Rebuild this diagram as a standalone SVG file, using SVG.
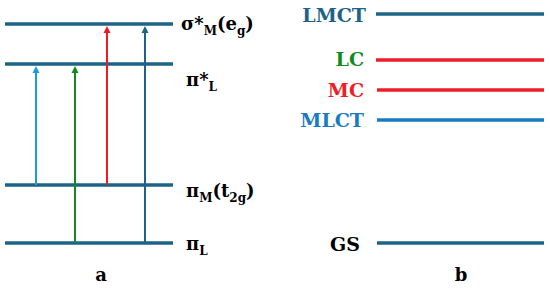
<svg xmlns="http://www.w3.org/2000/svg" width="550" height="290" viewBox="0 0 550 290">
<style>
.lvl{stroke:#1b6387;stroke-width:3.5;fill:none}
text{font-family:'DejaVu Serif','Liberation Serif',serif;font-weight:bold}
.t{font-size:18px;fill:#000}
.s{font-size:12px}
.lab{font-size:19px;text-anchor:end}
.ax{font-size:18px;text-anchor:middle}
</style>
<rect width="550" height="290" fill="#fff"/>
<g id="panel-a">
<g id="lvl-sigma"><line class="lvl" x1="5" y1="24" x2="173" y2="24"/><text class="t" x="181" y="30">σ*<tspan class="s" dy="5">M</tspan><tspan dy="-5">(e</tspan><tspan class="s" dy="5">g</tspan><tspan dy="-5">)</tspan></text></g>
<g id="lvl-piL-star"><line class="lvl" x1="5" y1="64" x2="173" y2="64"/><text class="t" x="186" y="86">π*<tspan class="s" dy="5">L</tspan></text></g>
<g id="lvl-piM"><line class="lvl" x1="5" y1="185" x2="173" y2="185"/><text class="t" x="186" y="197">π<tspan class="s" dy="5">M</tspan><tspan dy="-5">(t</tspan><tspan class="s" dy="5">2g</tspan><tspan dy="-5">)</tspan></text></g>
<g id="lvl-piL"><line class="lvl" x1="5" y1="243" x2="173" y2="243"/><text class="t" x="186" y="250">π<tspan class="s" dy="5">L</tspan></text></g>
<text id="label-a" class="ax" x="101" y="281">a</text>
</g>
<g id="connectors">
<line x1="36" y1="185" x2="36" y2="72" stroke="#1c9ae0" stroke-width="2"/><path d="M32.5,73 L36,66 L39.5,73 Z" fill="#1c9ae0"/>
<line x1="75" y1="243" x2="75" y2="72" stroke="#138a1c" stroke-width="2"/><path d="M71.5,73 L75,66 L78.5,73 Z" fill="#138a1c"/>
<line x1="107" y1="185" x2="107" y2="32" stroke="#ee1c24" stroke-width="2"/><path d="M103.5,33 L107,26 L110.5,33 Z" fill="#ee1c24"/>
<line x1="145" y1="243" x2="145" y2="32" stroke="#1b6387" stroke-width="2"/><path d="M141.5,33 L145,26 L148.5,33 Z" fill="#1b6387"/>
</g>
<g id="panel-b">
<g id="LMCT"><line x1="376" y1="14" x2="544" y2="14" stroke="#1b6387" stroke-width="3.5"/><text class="lab" x="366" y="22" fill="#1b6387">LMCT</text></g>
<g id="LC"><line x1="376" y1="60" x2="544" y2="60" stroke="#ee1c24" stroke-width="3.5"/><text class="lab" x="364" y="66" fill="#138a1c">LC</text></g>
<g id="MC"><line x1="377" y1="90" x2="544" y2="90" stroke="#ee1c24" stroke-width="3.5"/><text class="lab" x="364" y="97" fill="#ee1c24">MC</text></g>
<g id="MLCT"><line x1="377" y1="120" x2="544" y2="120" stroke="#1a7ac4" stroke-width="3.5"/><text class="lab" x="364" y="127" fill="#1a7ac4">MLCT</text></g>
<g id="GS"><line x1="377" y1="243" x2="544" y2="243" stroke="#1b6387" stroke-width="3.5"/><text class="lab" x="360" y="251" fill="#000">GS</text></g>
<text id="label-b" class="ax" x="461" y="281">b</text>
</g>
</svg>
